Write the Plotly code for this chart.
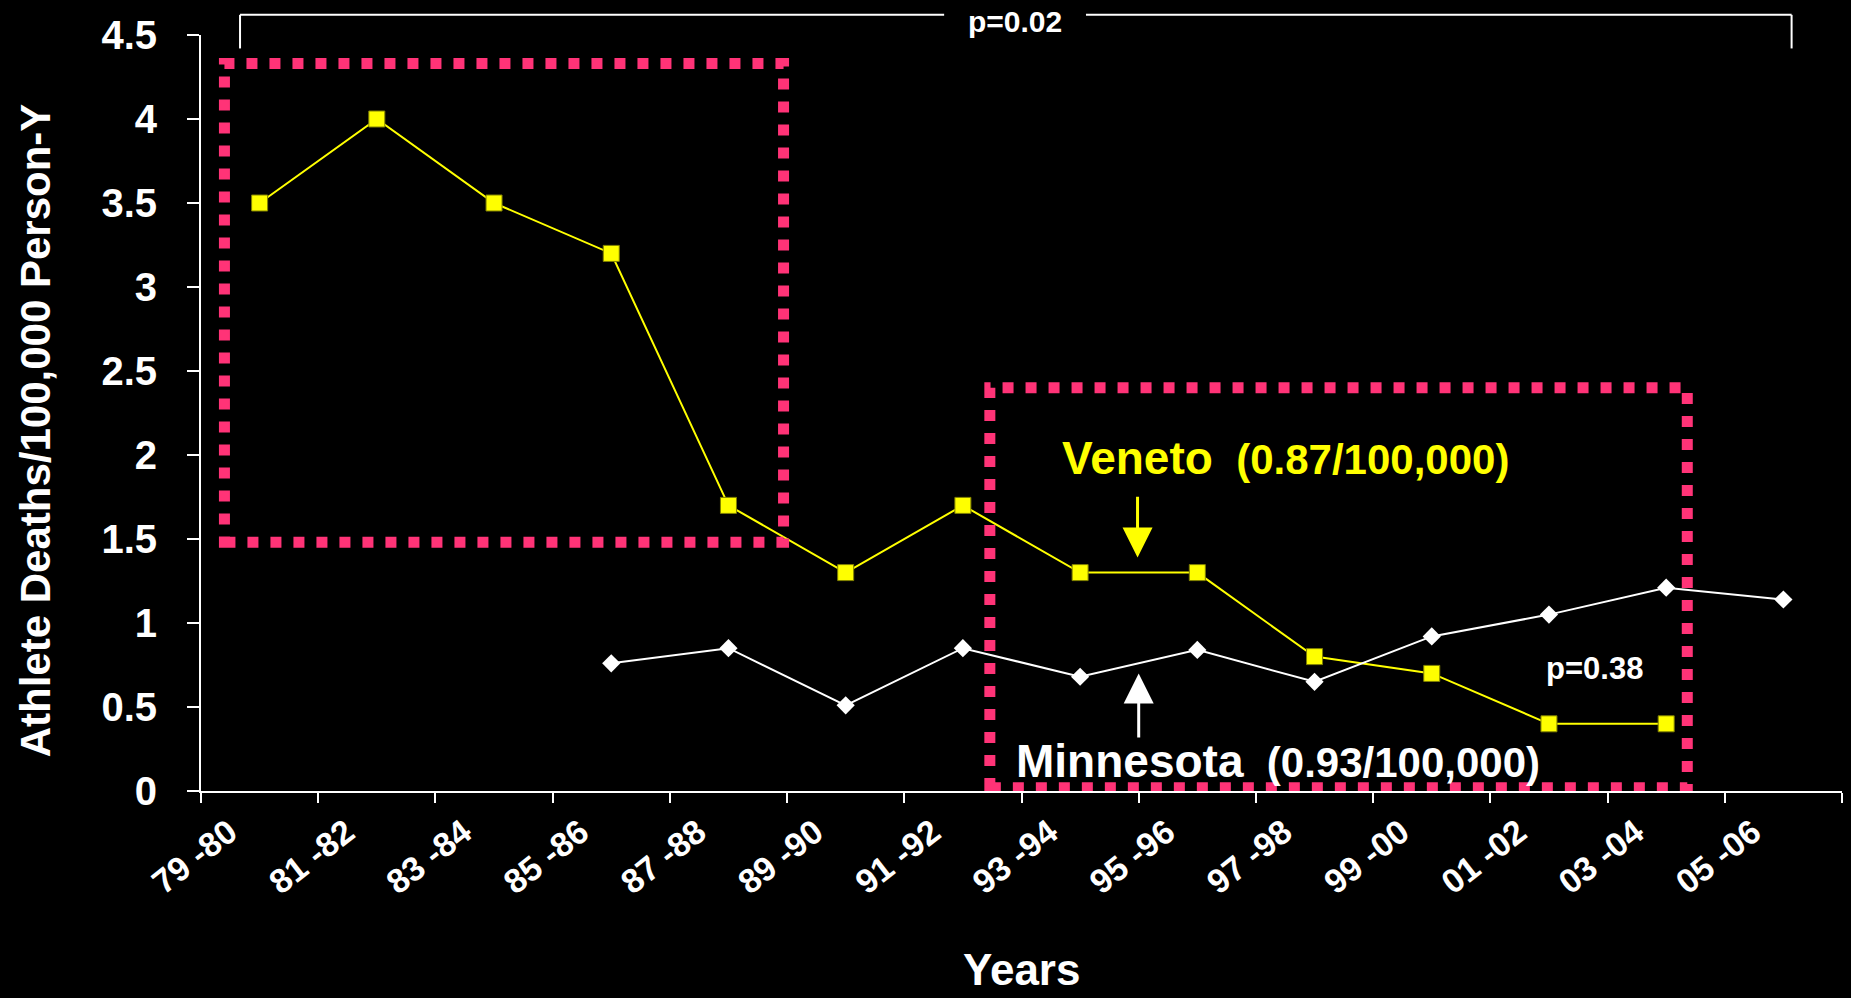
import plotly.graph_objects as go

# two-year periods on the category axis
periods = ["79 -80", "81 -82", "83 -84", "85 -86", "87 -88", "89 -90", "91 -92",
           "93 -94", "95 -96", "97 -98", "99 -00", "01 -02", "03 -04", "05 -06"]

# Veneto starts at 79-80, Minnesota at 85-86
veneto = [3.5, 4.0, 3.5, 3.2, 1.7, 1.3, 1.7, 1.3, 1.3, 0.8, 0.7, 0.4, 0.4]
minnesota = [0.76, 0.85, 0.51, 0.85, 0.68, 0.84, 0.65, 0.92, 1.05, 1.21, 1.14]

veneto_x = list(range(len(veneto)))
minnesota_x = list(range(3, 3 + len(minnesota)))

FONT = "Liberation Sans, Arial, sans-serif"
PINK = "#FF3377"
YELLOW = "#FFFF00"
N = len(periods)


def xp(x):
    # data x -> paper x
    return (x + 0.5) / N


def yp(y):
    return y / 4.5


fig = go.Figure()

fig.add_trace(go.Scatter(
    x=veneto_x, y=veneto, mode="lines+markers", name="Veneto",
    line=dict(color=YELLOW, width=2),
    marker=dict(symbol="square", size=16, color=YELLOW, line=dict(color="#808000", width=1))
))

fig.add_trace(go.Scatter(
    x=minnesota_x, y=minnesota, mode="lines+markers", name="Minnesota",
    line=dict(color="white", width=2),
    marker=dict(symbol="diamond", size=14, color="white")
))

# dotted highlight boxes
dotted = dict(color=PINK, width=11, dash="11px,12px")
fig.add_shape(type="rect", xref="x", yref="y", x0=-0.30, x1=4.47, y0=1.48, y1=4.33,
              line=dotted, layer="above")
fig.add_shape(type="rect", xref="x", yref="y", x0=6.23, x1=12.18, y0=0.02, y1=2.40,
              line=dotted, layer="above")

# significance bracket on top
br_l, br_r, br_gap0, br_gap1 = -0.167, 13.07, 5.84, 7.05
br_top, br_bot = yp(4.62), yp(4.42)
for x0, x1 in [(br_l, br_gap0), (br_gap1, br_r)]:
    fig.add_shape(type="line", xref="paper", yref="paper", x0=xp(x0), x1=xp(x1),
                  y0=br_top, y1=br_top, line=dict(color="white", width=2))
for xx in [br_l, br_r]:
    fig.add_shape(type="line", xref="paper", yref="paper", x0=xp(xx), x1=xp(xx),
                  y0=br_top, y1=br_bot, line=dict(color="white", width=2))

bold = dict(family=FONT, weight="bold")

annotations = [
    dict(x=xp((br_gap0 + br_gap1) / 2), y=1.0185, xref="paper", yref="paper",
         xanchor="center", yanchor="middle",
         text="p=0.02", showarrow=False, font=dict(size=30, color="white", **bold)),
    dict(x=11.39, y=0.73, xref="x", yref="y", xanchor="center", yanchor="middle",
         text="p=0.38", showarrow=False, font=dict(size=31, color="white", **bold)),
    dict(x=6.83, y=1.98, xref="x", yref="y", xanchor="left", yanchor="middle",
         text="<span style='font-size:46px'>Veneto</span> &nbsp;(0.87/100,000)",
         showarrow=False, font=dict(size=42, color=YELLOW, **bold)),
    dict(x=6.44, y=0.18, xref="x", yref="y", xanchor="left", yanchor="middle",
         text="<span style='font-size:46px'>Minnesota</span> &nbsp;(0.93/100,000)",
         showarrow=False, font=dict(size=42, color="white", **bold)),
    # arrows
    dict(x=7.49, y=1.39, ax=7.49, ay=1.76, xref="x", yref="y", axref="x", ayref="y",
         text="", showarrow=True, arrowhead=2, arrowsize=2, arrowwidth=3, arrowcolor=YELLOW),
    dict(x=7.5, y=0.70, ax=7.5, ay=0.31, xref="x", yref="y", axref="x", ayref="y",
         text="", showarrow=True, arrowhead=2, arrowsize=2, arrowwidth=3, arrowcolor="white"),
    # axis titles
    dict(x=-0.101, y=0.4775, xref="paper", yref="paper", textangle=-90,
         xanchor="center", yanchor="middle",
         text="Athlete Deaths/100,000 Person-Y", showarrow=False,
         font=dict(size=42, color="white", **bold)),
    dict(x=0.5, y=-0.236, xref="paper", yref="paper", xanchor="center", yanchor="middle",
         text="Years", showarrow=False,
         font=dict(size=44, color="white", **bold)),
]

fig.update_layout(
    width=1851, height=998,
    margin=dict(l=201, r=9, t=35, b=207),
    paper_bgcolor="black", plot_bgcolor="black",
    showlegend=False,
    annotations=annotations,
    font=dict(family=FONT, color="white"),
)

fig.update_xaxes(
    range=[-0.5, N - 0.5], showgrid=False, zeroline=False,
    showline=True, linecolor="white", linewidth=2,
    tickmode="array", tickvals=[i - 0.26 for i in range(N)], ticktext=periods,
    ticks="", tickangle=-38, ticklabelstandoff=6,
    tickfont=dict(size=34, color="white", **bold),
    minor=dict(tickmode="array", tickvals=[i - 0.5 for i in range(N + 1)],
               ticks="outside", ticklen=10, tickwidth=2, tickcolor="white"),
)

fig.update_yaxes(
    range=[0, 4.5], tick0=0, dtick=0.5, showgrid=False, zeroline=False,
    showline=True, linecolor="white", linewidth=2,
    ticks="outside", ticklen=12, tickwidth=2, tickcolor="white",
    ticklabelstandoff=22,
    tickfont=dict(size=40, color="white", **bold),
)

fig.write_html("out.html", config={"displayModeBar": False},
               post_script="document.body.style.margin='0';document.body.style.background='black';")
